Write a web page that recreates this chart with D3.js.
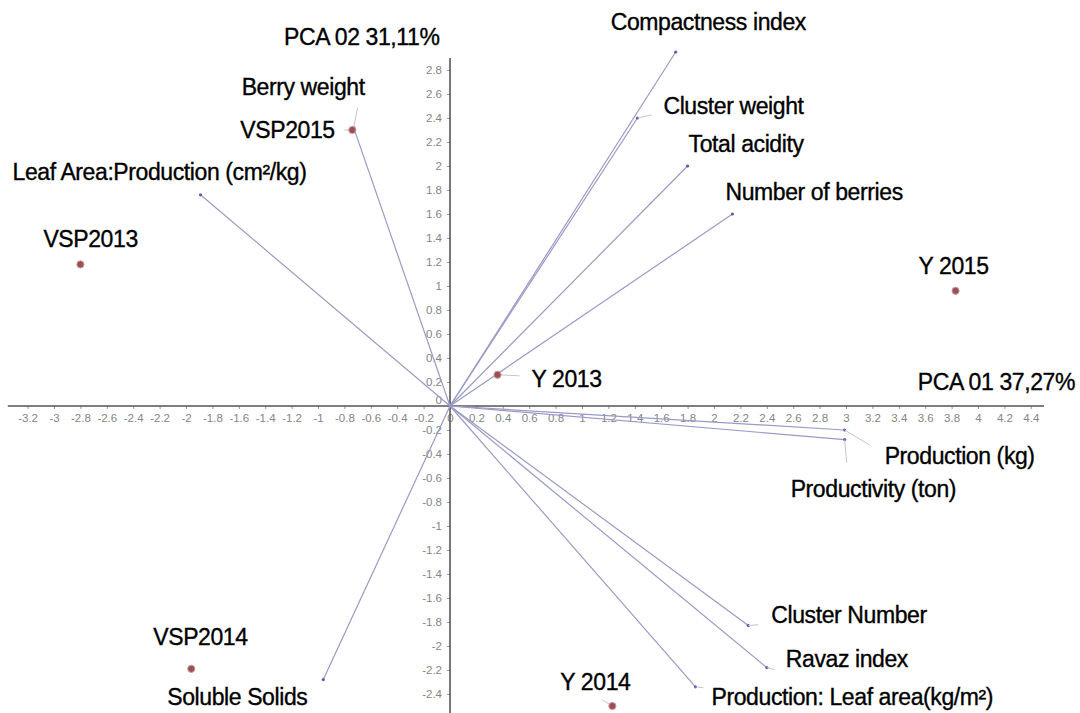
<!DOCTYPE html>
<html>
<head>
<meta charset="utf-8">
<script src="https://cdn.jsdelivr.net/npm/d3@7"></script>
<style>
  body { margin: 0; background: #fff; }
  svg { display: block; }
  .tick text { fill: #858585; font-family: "Liberation Sans", Arial, sans-serif; font-size: 11.5px; }
  .tick line { stroke: #999; }
  .lbl { font-family: "Liberation Sans", Arial, sans-serif; font-size: 23px; fill: #000; stroke: #000; stroke-width: 0.35px; letter-spacing: -0.4px; }
</style>
</head>
<body>
<div id="chart"></div>
<script>
// variable vectors (PCA loadings, scaled)
var vecNames = ["Compactness index", "Cluster weight", "Total acidity", "Number of berries",
                "Berry weight", "Leaf Area:Production (cm\u00b2/kg)", "Soluble Solids",
                "Production (kg)", "Productivity (ton)", "Cluster Number", "Ravaz index",
                "Production: Leaf area(kg/m\u00b2)"];
var vecX = [1.71, 1.42, 1.80, 2.14, -0.73, -1.89, -0.96, 2.99, 2.99, 2.26, 2.40, 1.86];
var vecY = [2.95, 2.40, 2.00, 1.60, 2.32, 1.76, -2.28, -0.20, -0.28, -1.83, -2.18, -2.34];

// observations (scores)
var obsNames = ["VSP2013", "VSP2014", "VSP2015", "Y 2013", "Y 2014", "Y 2015"];
var obsX = [-2.80, -1.96, -0.74, 0.36, 1.23, 3.83];
var obsY = [1.18, -2.19, 2.30, 0.26, -2.50, 0.96];

var xTickValues = d3.range(-16, 23).map(function(i) { return i / 5; });
var yTickValues = d3.range(-12, 15).map(function(i) { return i / 5; }).filter(function(v) { return v !== 0; });

var xTitle = "PCA 01 37,27%";
var yTitle = "PCA 02 31,11%";

var width = 1080, height = 713;

var svg = d3.select("#chart")
  .append("svg")
  .attr("width", width)
  .attr("height", height);

// origin at about (450, 406), 132 px per unit in x, 120 in y
var x = d3.scaleLinear().domain([-3.3, 4.5]).range([450 - 3.3 * 132, 450 + 4.5 * 132]);
var y = d3.scaleLinear().domain([-2.55, 2.9]).range([406 + 2.55 * 120, 406 - 2.9 * 120]);

var fmt = function(d) { return String(+d.toFixed(1)); };

// axes
var gx = svg.append("g")
  .attr("transform", "translate(0," + y(0) + ")")
  .call(d3.axisBottom(x).tickValues(xTickValues).tickFormat(fmt).tickSize(3).tickPadding(5));
gx.select(".domain").remove();

var gy = svg.append("g")
  .attr("transform", "translate(" + x(0) + ",0)")
  .call(d3.axisLeft(y).tickValues(yTickValues).tickFormat(fmt).tickSize(3).tickPadding(5));
gy.select(".domain").remove();

svg.append("text")
  .attr("x", x(0) - 8).attr("y", y(0) - 2)
  .attr("text-anchor", "end")
  .style("font-family", "Liberation Sans, Arial, sans-serif").style("font-size", "11.5px").attr("fill", "#858585")
  .text("0");

svg.append("line")
  .attr("x1", x(-3.35)).attr("x2", x(4.5))
  .attr("y1", y(0)).attr("y2", y(0))
  .attr("stroke", "#555").attr("stroke-width", 1.6);
svg.append("line")
  .attr("x1", x(0)).attr("x2", x(0))
  .attr("y1", y(2.9)).attr("y2", y(-2.6))
  .attr("stroke", "#555").attr("stroke-width", 1.6);

// label placement for each name: [dx, dy] from the point
var labelPos = {
  "Compactness index": [-65, -22],
  "Cluster weight": [26, -4],
  "Total acidity": [1, -14],
  "Number of berries": [-7, -14],
  "Berry weight": [-112, -33],
  "Leaf Area:Production (cm\u00b2/kg)": [-188, -15],
  "Soluble Solids": [-156, 25],
  "Production (kg)": [40, 34],
  "Productivity (ton)": [-54, 57],
  "Cluster Number": [23, -3],
  "Ravaz index": [19, -1],
  "Production: Leaf area(kg/m\u00b2)": [16, 18],
  "VSP2013": [-37, -17],
  "VSP2014": [-38, -24],
  "VSP2015": [-112, 8],
  "Y 2013": [34, 12],
  "Y 2014": [-52, -16],
  "Y 2015": [-37, -17]
};
// short leader lines from the point to its label
var leaders = {
  "Cluster weight": [14, -3],
  "Berry weight": [4, -20],
  "Production (kg)": [25, 15],
  "Productivity (ton)": [2, 23],
  "Cluster Number": [10, -1],
  "Ravaz index": [8, 2],
  "Production: Leaf area(kg/m\u00b2)": [8, 1],
  "Y 2013": [22, 1],
  "Y 2014": [-10, -6],
  "VSP2015": [-8, 0]
};

var vectors = vecNames.map(function(n, i) { return {name: n, vx: vecX[i], vy: vecY[i]}; });
var obs = obsNames.map(function(n, i) { return {name: n, vx: obsX[i], vy: obsY[i]}; });

// vector lines
svg.selectAll(".vec")
  .data(vectors)
  .enter()
  .append("line")
    .attr("x1", x(0)).attr("y1", y(0))
    .attr("x2", function(d) { return x(d.vx); })
    .attr("y2", function(d) { return y(d.vy); })
    .attr("stroke", "#9a9ac6")
    .attr("stroke-width", 1.2);

svg.selectAll(".vecEnd")
  .data(vectors)
  .enter()
  .append("circle")
    .attr("cx", function(d) { return x(d.vx); })
    .attr("cy", function(d) { return y(d.vy); })
    .attr("r", 1.6)
    .attr("fill", "#5a5aa8");

// leader lines
var all = vectors.concat(obs);
svg.selectAll(".leader")
  .data(all.filter(function(d) { return leaders[d.name]; }))
  .enter()
  .append("line")
    .attr("x1", function(d) { return x(d.vx); })
    .attr("y1", function(d) { return y(d.vy); })
    .attr("x2", function(d) { return x(d.vx) + leaders[d.name][0]; })
    .attr("y2", function(d) { return y(d.vy) + leaders[d.name][1]; })
    .attr("stroke", "#c4c4cc")
    .attr("stroke-width", 1);

// observation points
svg.selectAll(".obs")
  .data(obs)
  .enter()
  .append("circle")
    .attr("cx", function(d) { return x(d.vx); })
    .attr("cy", function(d) { return y(d.vy); })
    .attr("r", 3.6)
    .attr("fill", "#9b4f55")
    .attr("stroke", "#c9a0a4")
    .attr("stroke-width", 1);

// labels
svg.selectAll(".lblt")
  .data(all)
  .enter()
  .append("text")
    .attr("class", "lbl")
    .attr("x", function(d) { return x(d.vx) + labelPos[d.name][0]; })
    .attr("y", function(d) { return y(d.vy) + labelPos[d.name][1]; })
    .text(function(d) { return d.name; });

// axis titles
svg.append("text").attr("class", "lbl")
  .attr("x", x(4.5) + 31).attr("y", y(0) - 16)
  .attr("text-anchor", "end")
  .text(xTitle);
svg.append("text").attr("class", "lbl")
  .attr("x", x(0) - 166).attr("y", y(2.9) - 13)
  .text(yTitle);
</script>
</body>
</html>
